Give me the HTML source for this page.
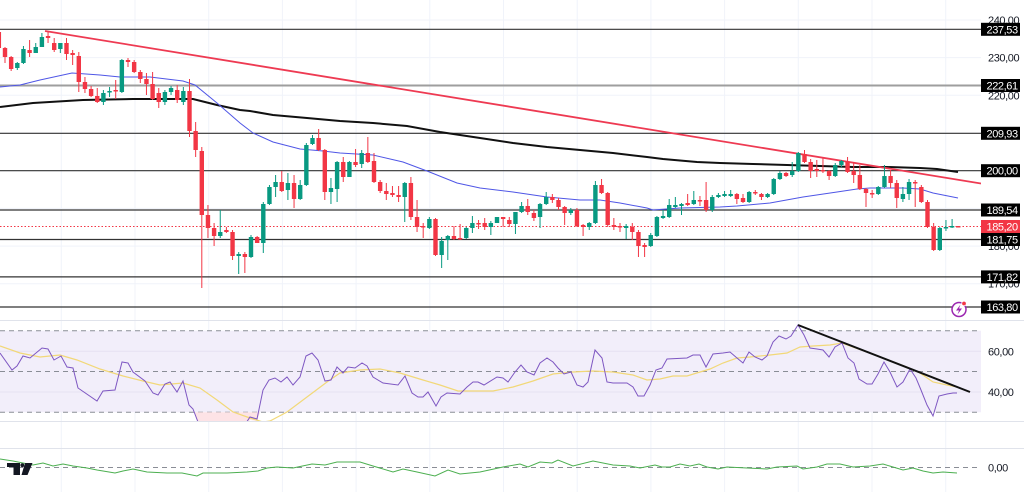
<!DOCTYPE html>
<html><head><meta charset="utf-8"><style>
html,body{margin:0;padding:0;background:#fff;}
svg{display:block;}
text{font-family:"Liberation Sans",sans-serif;}
</style></head><body>
<svg width="1024" height="492" viewBox="0 0 1024 492" xmlns="http://www.w3.org/2000/svg">
<defs>
<clipPath id="mainclip"><rect x="0" y="0" width="981" height="320"/></clipPath>
<clipPath id="rsiclip"><rect x="0" y="321" width="981" height="100"/></clipPath>
</defs>
<rect width="1024" height="492" fill="#fff"/>
<!-- vertical grid -->
<g stroke="#f0f3fa" stroke-width="1">
<path d="M61.3 0V492M135 0V492M208.7 0V492M282.4 0V492M356.1 0V492M429.8 0V492M503.5 0V492M577.2 0V492M650.9 0V492M724.6 0V492M798.3 0V492M872 0V492M945.7 0V492"/>
<path d="M0 20H981M0 57.6H981M0 95.3H981M0 133H981M0 170.7H981M0 208.4H981M0 246.1H981M0 283.7H981"/>
</g>
<!-- horizontal levels -->
<g stroke="#333" stroke-width="1.2">
<path d="M0 29.3H981M0 133.3H981M0 170.7H981M0 210H981M0 239.5H981M0 276.9H981M0 307H981"/>
</g>
<path d="M0 85.5H981" stroke="#9e9e9e" stroke-width="2"/>
<path d="M0 226.5H981" stroke="#f23645" stroke-width="1" stroke-dasharray="1.5 2"/>
<g clip-path="url(#mainclip)">
<!-- MAs -->
<polyline fill="none" stroke="#111" stroke-width="2" points="0,107 33,103 83,100 133,99 167,99 193,99 217,105 240,110 250,111 273,115 307,118 340,121 373,123 407,126 440,132 480,138 513,143 547,147 580,150 613,153 647,157 663,159 697,162 720,163 753,164 787,165 820,166 853,167 887,167 920,168 937,169 958,172"/>
<polyline fill="none" stroke="#4f56e6" stroke-width="1" points="0,87 20,85 40,80 72,73 100,75 120,77 150,77 183,81 195,85 217,103 240,123 253,133 273,142 300,149 323,151 340,153 373,155 403,162 427,171 457,183 480,188 513,192 547,197 580,200 600,200 620,203 647,208 653,210 680,208 720,207 737,206 770,203 803,197 837,192 857,189 870,188 903,188 920,189 933,193 958,198"/>
<path d="M45 31L981 183.5" stroke="#ee3a52" stroke-width="1.8" fill="none"/>
<!-- candles -->
<path fill="none" stroke="#089981" stroke-width="1" d="M17.3 62V70M23.45 46V64M35.75 43V53M41.9 33V47M60.35 43V53M103.4 90V105M109.55 87V97M121.85 59V93M164.9 90V105M171.05 86V95M183.35 87V105M220.25 210V238M238.7 252V274M251 235V258M263.3 202V253M269.45 185V205M275.6 175V197M287.9 173V200M300.2 180V200M306.35 143V186M312.5 135V145M330.95 178V204M337.1 161V202M349.4 161V177M361.7 150V168M404.75 182V222M429.35 217V229M441.65 237V268M447.8 235V260M466.25 227V239M472.4 216V233M490.85 221V235M497 217V223M515.45 212V234M521.6 202V213M540.05 203V228M546.2 192V205M570.8 208V215M589.25 222V230M595.4 181V224M626.15 224V239M650.75 233V247M656.9 216V237M663.05 210V219M669.2 199V218M675.35 197V208M681.5 203V215M693.8 191V205M712.25 195V212M718.4 193V198M724.55 191V197M730.7 190V197M749.15 191V203M767.6 193V198M773.75 178V195M779.9 171V180M792.2 162V177M798.35 152V172M835.25 163V177M841.4 160V167M878.3 186V195M884.45 165V188M902.9 187V202M909.05 179V200M939.8 227V251M945.95 220V231M952.1 219V228"/>
<path fill="#089981" d="M15.1 63h4.4V68h-4.4zM21.25 49h4.4V63h-4.4zM33.55 47h4.4V53h-4.4zM39.7 37h4.4V47h-4.4zM58.15 43h4.4V49h-4.4zM101.2 93h4.4V102h-4.4zM107.35 91h4.4V92.5h-4.4zM119.65 60h4.4V92h-4.4zM162.7 92h4.4V102h-4.4zM168.85 88h4.4V92h-4.4zM181.15 91h4.4V102h-4.4zM218.05 232h4.4V236h-4.4zM236.5 254h4.4V256h-4.4zM248.8 237h4.4V257h-4.4zM261.1 204h4.4V243h-4.4zM267.25 187h4.4V204h-4.4zM273.4 182h4.4V187h-4.4zM285.7 183h4.4V190h-4.4zM298 185h4.4V199h-4.4zM304.15 145h4.4V185h-4.4zM310.3 138h4.4V144h-4.4zM328.75 188h4.4V192h-4.4zM334.9 162h4.4V189h-4.4zM347.2 162h4.4V177h-4.4zM359.5 153h4.4V164h-4.4zM402.55 183h4.4V197h-4.4zM427.15 219h4.4V228h-4.4zM439.45 241h4.4V255h-4.4zM445.6 236h4.4V240h-4.4zM464.05 228h4.4V238h-4.4zM470.2 223h4.4V228h-4.4zM488.65 223h4.4V227h-4.4zM494.8 217h4.4V223h-4.4zM513.25 212h4.4V224h-4.4zM519.4 206h4.4V212h-4.4zM537.85 204h4.4V217h-4.4zM544 197h4.4V204h-4.4zM568.6 210h4.4V213h-4.4zM587.05 223h4.4V227h-4.4zM593.2 185h4.4V223h-4.4zM623.95 226h4.4V228h-4.4zM648.55 235h4.4V246h-4.4zM654.7 217h4.4V236h-4.4zM660.85 216h4.4V218h-4.4zM667 205h4.4V217h-4.4zM673.15 205h4.4V207h-4.4zM679.3 204h4.4V206h-4.4zM691.6 200h4.4V204h-4.4zM710.05 197h4.4V210h-4.4zM716.2 195h4.4V197h-4.4zM722.35 194h4.4V196h-4.4zM728.5 194h4.4V196h-4.4zM746.95 192h4.4V202h-4.4zM765.4 194h4.4V197h-4.4zM771.55 179h4.4V194h-4.4zM777.7 173h4.4V179h-4.4zM790 171h4.4V175h-4.4zM796.15 153h4.4V171h-4.4zM833.05 165h4.4V176h-4.4zM839.2 161h4.4V165h-4.4zM876.1 187h4.4V194h-4.4zM882.25 176h4.4V187h-4.4zM900.7 194h4.4V199h-4.4zM906.85 182h4.4V194h-4.4zM937.6 228h4.4V250h-4.4zM943.75 227h4.4V228.5h-4.4zM949.9 226h4.4V227.5h-4.4z"/>
<path fill="none" stroke="#f23645" stroke-width="1" d="M-1.15 30V50M5 47V63M11.15 56V71M29.6 40V57M48.05 32V43M54.2 38V52M66.5 38V60M72.65 50V65M78.8 52V92M84.95 77V93M91.1 86V97M97.25 88V103M115.7 80V99M128 58V67M134.15 60V73M140.3 70V83M146.45 73V95M152.6 72V100M158.75 88V108M177.2 85V103M189.5 79V137M195.65 122V157M201.8 147V288M207.95 205V238M214.1 223V246M226.4 227V233M232.55 230V260M244.85 252V273M257.15 236V243M281.75 171V192M294.05 175V208M318.65 129V151M324.8 149V200M343.25 157V182M355.55 149V167M367.85 137V163M374 153V183M380.15 180V193M386.3 183V200M392.45 186V197M398.6 186V202M410.9 177V220M417.05 200V232M423.2 223V238M435.5 218V256M453.95 226V240M460.1 224V240M478.55 220V229M484.7 218V230M503.15 217V227M509.3 217V227M527.75 199V215M533.9 210V221M552.35 194V203M558.5 198V210M564.65 206V225M576.95 208V227M583.1 224V236M601.55 179V194M607.7 192V227M613.85 218V230M620 223V232M632.3 223V240M638.45 230V257M644.6 243V257M687.65 194V206M699.95 196V206M706.1 182V212M736.85 193V204M743 194V203M755.3 190V195M761.45 193V200M786.05 172V177M804.5 150V163M810.65 159V178M816.8 160V177M822.95 158V173M829.1 170V180M847.55 157V173M853.7 162V183M859.85 165V190M866 188V207M872.15 190V198M890.6 170V188M896.75 180V208M915.2 180V207M921.35 185V203M927.5 200V228M933.65 223V251"/>
<path fill="#f23645" d="M-3.35 32h4.4V48h-4.4zM2.8 48h4.4V57h-4.4zM8.95 57h4.4V69h-4.4zM27.4 50h4.4V53h-4.4zM45.85 36h4.4V38h-4.4zM52 43h4.4V50h-4.4zM64.3 43h4.4V54h-4.4zM70.45 53h4.4V55h-4.4zM76.6 56h4.4V82h-4.4zM82.75 82h4.4V89h-4.4zM88.9 89h4.4V96h-4.4zM95.05 96h4.4V102h-4.4zM113.5 90h4.4V91.5h-4.4zM125.8 60h4.4V62h-4.4zM131.95 62h4.4V72h-4.4zM138.1 72h4.4V79h-4.4zM144.25 79h4.4V84h-4.4zM150.4 84h4.4V99h-4.4zM156.55 93h4.4V102h-4.4zM175 90h4.4V100h-4.4zM187.3 91h4.4V131h-4.4zM193.45 131h4.4V150h-4.4zM199.6 151h4.4V215h-4.4zM205.75 215h4.4V228h-4.4zM211.9 228h4.4V236h-4.4zM224.2 230h4.4V232h-4.4zM230.35 232h4.4V256h-4.4zM242.65 254h4.4V257h-4.4zM254.95 237h4.4V243h-4.4zM279.55 182h4.4V191h-4.4zM291.85 183h4.4V199h-4.4zM316.45 138h4.4V150h-4.4zM322.6 150h4.4V192h-4.4zM341.05 162h4.4V177h-4.4zM353.35 162h4.4V165h-4.4zM365.65 153h4.4V162h-4.4zM371.8 161h4.4V182h-4.4zM377.95 182h4.4V191h-4.4zM384.1 191h4.4V194h-4.4zM390.25 193h4.4V195h-4.4zM396.4 195h4.4V197h-4.4zM408.7 183h4.4V217h-4.4zM414.85 217h4.4V227h-4.4zM421 226h4.4V227.5h-4.4zM433.3 219h4.4V255h-4.4zM451.75 236h4.4V239h-4.4zM457.9 238h4.4V239.5h-4.4zM476.35 223h4.4V224.5h-4.4zM482.5 223h4.4V227h-4.4zM500.95 217h4.4V219h-4.4zM507.1 220h4.4V224h-4.4zM525.55 206h4.4V212h-4.4zM531.7 213h4.4V218h-4.4zM550.15 197h4.4V200h-4.4zM556.3 200h4.4V207h-4.4zM562.45 207h4.4V213h-4.4zM574.75 210h4.4V226h-4.4zM580.9 225h4.4V227h-4.4zM599.35 185h4.4V193h-4.4zM605.5 193h4.4V225h-4.4zM611.65 225h4.4V227h-4.4zM617.8 226h4.4V227.5h-4.4zM630.1 227h4.4V232h-4.4zM636.25 232h4.4V246h-4.4zM642.4 245h4.4V247h-4.4zM685.45 203h4.4V205h-4.4zM697.75 200h4.4V201.5h-4.4zM703.9 200h4.4V210h-4.4zM734.65 194h4.4V199h-4.4zM740.8 198h4.4V202h-4.4zM753.1 192h4.4V193.5h-4.4zM759.25 194h4.4V197h-4.4zM783.85 173h4.4V176h-4.4zM802.3 154h4.4V162h-4.4zM808.45 162h4.4V171h-4.4zM814.6 169h4.4V171h-4.4zM820.75 170h4.4V171.5h-4.4zM826.9 171h4.4V176h-4.4zM845.35 162h4.4V172h-4.4zM851.5 171h4.4V175h-4.4zM857.65 175h4.4V189h-4.4zM863.8 189h4.4V193h-4.4zM869.95 193h4.4V194.5h-4.4zM888.4 176h4.4V183h-4.4zM894.55 183h4.4V198h-4.4zM913 182h4.4V183.5h-4.4zM919.15 187h4.4V202h-4.4zM925.3 202h4.4V227h-4.4zM931.45 227h4.4V250h-4.4zM956.05 226h4.4V227.5h-4.4z"/>
</g>
<!-- lightning icon -->
<circle cx="959" cy="309.5" r="7" fill="#fff" stroke="#9c27b0" stroke-width="1.5"/>
<path d="M960.5 304.5L956 310.5H959L957.5 314.5L962 308.5H959Z" fill="#9c27b0"/>
<circle cx="964" cy="303.5" r="2.3" fill="#f23645" stroke="#fff" stroke-width="0.8"/>
<!-- separators -->
<path d="M0 320.5H1024M0 421.5H1024M0 448.5H1024" stroke="#e0e3eb" stroke-width="1"/>
<!-- RSI pane -->
<rect x="0" y="330.7" width="981" height="81.6" fill="#f2eefa"/>
<path d="M0 351.3H981M0 392H981" stroke="#e6e1f2" stroke-width="1"/>
<path d="M0 330.7H981M0 371.5H981M0 412.3H981" stroke="#8a8d96" stroke-width="1" stroke-dasharray="5 4"/>
<g clip-path="url(#rsiclip)">
<polygon fill="#fde3e6" points="194,412.3 198,422 205,430 220,432 240,432 250,420 257,421 260,412.3"/>
<polyline fill="none" stroke="#f2d878" stroke-width="1.2" points="0,346 20,353 40,357 60,355 77,360 100,369 123,376 143,381 160,385 183,383 200,388 217,400 233,412 250,418 263,422 270,421 287,412 307,397 327,382 340,373 360,370 380,369 400,373 423,380 440,385 458,391 473,391 493,391 513,387 533,381 553,374 573,372 593,371 613,372 633,375 647,380 660,379 673,376 687,376 700,372 710,369 723,363 737,358 750,357 770,355 787,353 800,347 813,346 830,345 842,343 853,347 867,352 880,357 893,362 907,367 920,373 933,382 947,385 957,387"/>
<polyline fill="none" stroke="#7e57c2" stroke-width="1" points="0,353 12,370 17,366 23,356 30,358 42,348 48,349 54,360 61,356 67,367 73,368 78,388 97,401 103,391 115,390 122,362 128,363 133,372 145,381 153,393 158,395 165,384 170,382 177,392 183,381 189,405 193,409 198,422 205,430 220,432 240,432 250,417 257,419 263,390 269,380 275,378 281,382 287,377 293,385 300,377 306,356 312,353 318,360 325,381 331,380 337,367 343,373 348,367 355,368 362,363 367,366 373,377 383,383 398,385 405,376 412,393 418,397 423,397 428,392 436,406 441,397 447,393 460,394 467,387 473,382 478,382 484,385 497,377 503,378 508,382 515,372 521,365 527,372 534,375 540,363 547,358 553,362 558,368 564,374 571,372 577,385 583,387 588,382 595,350 602,358 607,382 613,383 627,383 633,387 638,396 644,396 650,385 656,370 662,368 667,359 687,358 693,355 700,355 706,367 713,354 723,353 730,352 737,358 743,363 749,352 755,357 762,360 767,356 773,342 779,336 786,339 791,336 798,325 804,335 810,348 817,349 823,350 829,357 835,347 842,343 848,358 854,363 859,379 867,384 872,384 878,374 884,362 890,372 897,387 903,382 910,369 916,378 921,390 927,405 933,416 939,396 947,394 953,393 957,393"/>
<path d="M798 325L970 392" stroke="#111" stroke-width="2"/>
</g>
<!-- bottom pane -->
<path d="M0 467.5H981" stroke="#8a8d96" stroke-width="1" stroke-dasharray="5 4"/>
<polyline fill="none" stroke="#4caf50" stroke-width="1" points="0,459 13,461 33,465 43,463 53,466 63,464 73,466 87,468 97,470 115,473 123,471 133,469 147,472 167,473 182,473 197,476 203,473 227,473 247,472 258,471 267,468 277,467 293,468 312,464 325,465 337,462 350,462 360,462 373,466 393,472 403,469 417,472 435,476 448,470 460,474 480,472 503,467 520,464 528,467 540,462 552,463 558,460 573,466 593,461 613,465 630,466 640,468 655,465 662,467 670,467 680,464 690,466 699,464 707,467 718,469 727,467 747,468 767,469 777,467 797,466 803,469 817,467 827,464 840,464 853,467 870,466 883,464 893,467 903,470 913,468 923,471 933,473 943,472 957,473"/>
<!-- TV logo -->
<g fill="#131722">
<path d="M7 463H20V475H13.5V467H7Z"/>
<circle cx="22.3" cy="465.2" r="1.9"/>
<path d="M25 463H32.5L27.5 475H21.5Z"/>
</g>
<!-- axis labels -->
<g font-size="11" fill="#131722" letter-spacing="-0.4">
<text x="988" y="24">240,00</text>
<text x="988" y="61.6">230,00</text>
<text x="988" y="99.3">220,00</text>
<text x="988" y="212.4">190,00</text>
<text x="988" y="250.1">180,00</text>
<text x="988" y="287.7">170,00</text>
<text x="988" y="355.3">60,00</text>
<text x="988" y="396">40,00</text>
<text x="988" y="471.5">0,00</text>
</g>
<g>
<rect x="981" y="22.8" width="39" height="13" fill="#000"/>
<rect x="981" y="79" width="39" height="13" fill="#000"/>
<rect x="981" y="126.8" width="39" height="13" fill="#000"/>
<rect x="981" y="164.2" width="39" height="13" fill="#000"/>
<rect x="981" y="203.5" width="39" height="13" fill="#000"/>
<rect x="981" y="220" width="39" height="13" fill="#f23645"/>
<rect x="981" y="233" width="39" height="13" fill="#000"/>
<rect x="981" y="270.4" width="39" height="13" fill="#000"/>
<rect x="981" y="300.5" width="39" height="13" fill="#000"/>
</g>
<g font-size="11" fill="#fff" letter-spacing="-0.4">
<text x="986.5" y="33.3">237,53</text>
<text x="986.5" y="89.5">222,61</text>
<text x="986.5" y="137.3">209,93</text>
<text x="986.5" y="174.7">200,00</text>
<text x="986.5" y="214">189,54</text>
<text x="986.5" y="230.5">185,20</text>
<text x="986.5" y="243.5">181,75</text>
<text x="986.5" y="280.9">171,82</text>
<text x="986.5" y="311">163,80</text>
</g>
</svg>
</body></html>
